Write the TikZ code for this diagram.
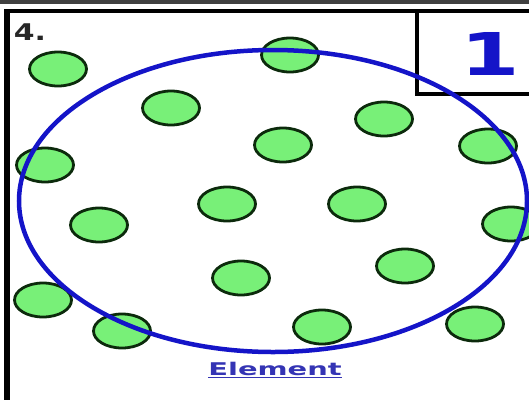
\documentclass[tikz,border=0pt]{standalone}
\usepackage{fontspec}
\setmainfont{DejaVu Sans}
\usepackage{tikz}
\usetikzlibrary{shapes.geometric}

\definecolor{atomgreen}{HTML}{78F078}
\definecolor{atomline}{HTML}{0C2A0C}
\definecolor{ringblue}{HTML}{1414C8}
\definecolor{textblue}{HTML}{3434B4}

\begin{document}
\begin{tikzpicture}[
    x=1pt, y=-1pt,
    atom/.style={draw=atomline, ellipse, fill=atomgreen, line width=2.8pt, minimum width=57pt, minimum height=34pt, inner sep=0pt},
    ring/.style={draw=ringblue, ellipse, line width=4.5pt, minimum width=508pt, minimum height=302pt, inner sep=0pt},
    frame/.style={draw=black, line width=4pt},
    lbl/.style={inner sep=0pt, font=\bfseries},
]
\useasboundingbox (0,0) rectangle (529,399);
\fill[white] (0,0) rectangle (529,399);

% outer frame
\fill[black!75] (0,0) rectangle (529,4);
\draw[frame] (4,10.5) -- (540,10.5);
\draw[frame, line width=6pt] (7,420) -- (7,8.5);

% number box
\draw[frame, line width=3.5pt] (417,10) -- (417,94) -- (540,94);
\node[lbl, text=ringblue] (num) at (490,54) {\scalebox{1.45}[1]{\fontsize{59}{60}\selectfont 1}};
\node[lbl, text=black!85] (idx) at (30,32) {\scalebox{1.3}[1]{\fontsize{23}{24}\selectfont 4.}};

% particles
\node[atom] (a1) at (58,69) {};
\node[atom] (a2) at (290,55) {};
\node[atom] (a3) at (171,108) {};
\node[atom] (a4) at (384,119) {};
\node[atom] (a5) at (283,145) {};
\node[atom] (a6) at (488,146) {};
\node[atom] (a7) at (45,165) {};
\node[atom] (a8) at (227,204) {};
\node[atom] (a9) at (357,204) {};
\node[atom] (a10) at (99,225) {};
\node[atom] (a11) at (511,224) {};
\node[atom] (a12) at (241,278) {};
\node[atom] (a13) at (405,266) {};
\node[atom] (a14) at (43,300) {};
\node[atom] (a15) at (122,331) {};
\node[atom] (a16) at (322,327) {};
\node[atom] (a17) at (475,324) {};

% boundary
\node[ring] (bound) at (273,201) {};

\node[lbl, text=textblue] (name) at (275,370) {\scalebox{1.65}[1]{\fontsize{17.5}{18}\selectfont\underline{Element}}};
\end{tikzpicture}
\end{document}
